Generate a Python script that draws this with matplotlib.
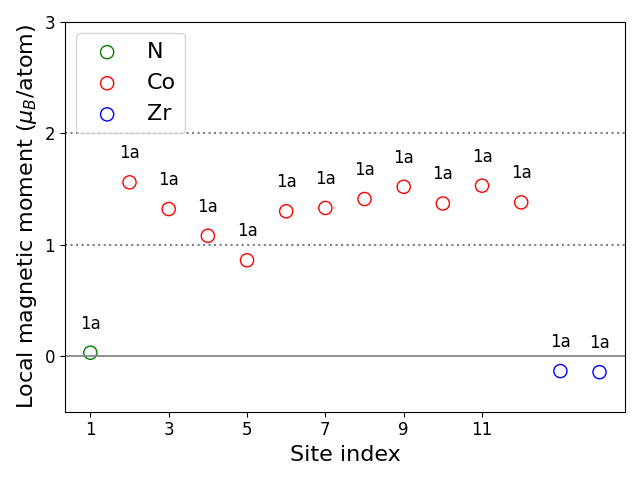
import numpy as np
import matplotlib
matplotlib.use("Agg")
import matplotlib.pyplot as plt

# site data
elements = ["N", "Co", "Zr"]
colors = {"N": "green", "Co": "red", "Zr": "blue"}
site_idx = {"N": [1], "Co": [2, 3, 4, 5, 6, 7, 8, 9, 10, 11, 12], "Zr": [13, 14]}
moments = {
    "N": [0.03],
    "Co": [1.56, 1.32, 1.08, 0.86, 1.30, 1.33, 1.41, 1.52, 1.37, 1.53, 1.38],
    "Zr": [-0.135, -0.145],
}
wyckoff = "1a"

fig, ax = plt.subplots(figsize=(6.4, 4.8), dpi=100)

for el in elements:
    ax.scatter(site_idx[el], moments[el], s=90, facecolors="none",
               edgecolors=colors[el], label=el)
    for x, y in zip(site_idx[el], moments[el]):
        ax.text(x, y + 0.18, wyckoff, ha="center", va="bottom", fontsize=12)

ax.axhline(0, color="gray", lw=1.2)
ax.axhline(1, color="gray", ls=":", lw=1.5)
ax.axhline(2, color="gray", ls=":", lw=1.5)

ax.set_ylim(-0.5, 3)
ax.set_yticks([0, 1, 2, 3])
ax.set_xticks([1, 3, 5, 7, 9, 11])
ax.tick_params(labelsize=12)
ax.set_xlabel("Site index", fontsize=16)
ax.set_ylabel(r"Local magnetic moment ($\mu_B$/atom)", fontsize=16)
ax.legend(loc="upper left", fontsize=16)

plt.tight_layout()
plt.savefig("out.png")
